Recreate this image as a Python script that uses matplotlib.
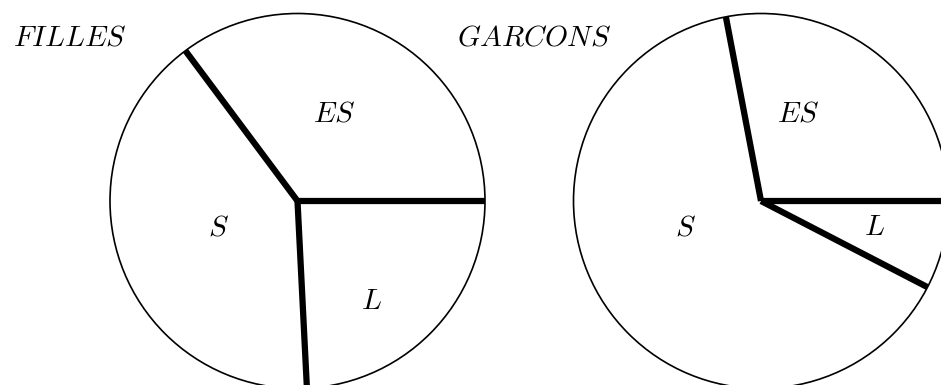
import numpy as np
import matplotlib
matplotlib.use("Agg")
import matplotlib.pyplot as plt
from matplotlib.patches import Circle

plt.rcParams['mathtext.fontset'] = 'cm'

# Data (shares in %)
labels = ["ES", "S", "L"]
filles = [35.2, 40.6, 24.2]
garcons = [28.0, 64.4, 7.6]
titles = ["FILLES", "GARCONS"]

# label positions relative to pie centre (pixels, y up)
filles_lbl = [(37, 88), (-79, -26), (74, -100)]
garcons_lbl = [(37, 88), (-76, -26), (113, -26)]

W, H = 941, 385
fig = plt.figure(figsize=(W / 100, H / 100), dpi=100)
ax = fig.add_axes([0, 0, 1, 1])

R = 187.5
centres = [(297.5, 184), (761, 184)]
title_pos = [(70, 348), (534.5, 348)]


def draw_pie(values, centre, lbl_pos):
    wedges, _ = ax.pie(values, center=centre, radius=R, startangle=0,
                       counterclock=True,
                       wedgeprops=dict(facecolor="white", edgecolor="none"))
    ax.add_patch(Circle(centre, R, fill=False, edgecolor="black", lw=1.2, zorder=3))
    for w in wedges:
        a = np.deg2rad(w.theta1)
        ax.plot([centre[0], centre[0] + R * np.cos(a)],
                [centre[1], centre[1] + R * np.sin(a)],
                color="black", lw=4.5, solid_capstyle="butt",
                solid_joinstyle="miter", zorder=4)
    for name, (dx, dy) in zip(labels, lbl_pos):
        ax.text(centre[0] + dx, centre[1] + dy, "$%s$" % name,
                fontsize=21, ha="center", va="center", zorder=5)


draw_pie(filles, centres[0], filles_lbl)
draw_pie(garcons, centres[1], garcons_lbl)

for t, (x, y) in zip(titles, title_pos):
    ax.text(x, y, "$%s$" % t, fontsize=21, ha="center", va="center")

ax.set_xlim(0, W)
ax.set_ylim(0, H)
ax.set_aspect("equal")
ax.axis("off")

fig.savefig("out.png", dpi=100)
